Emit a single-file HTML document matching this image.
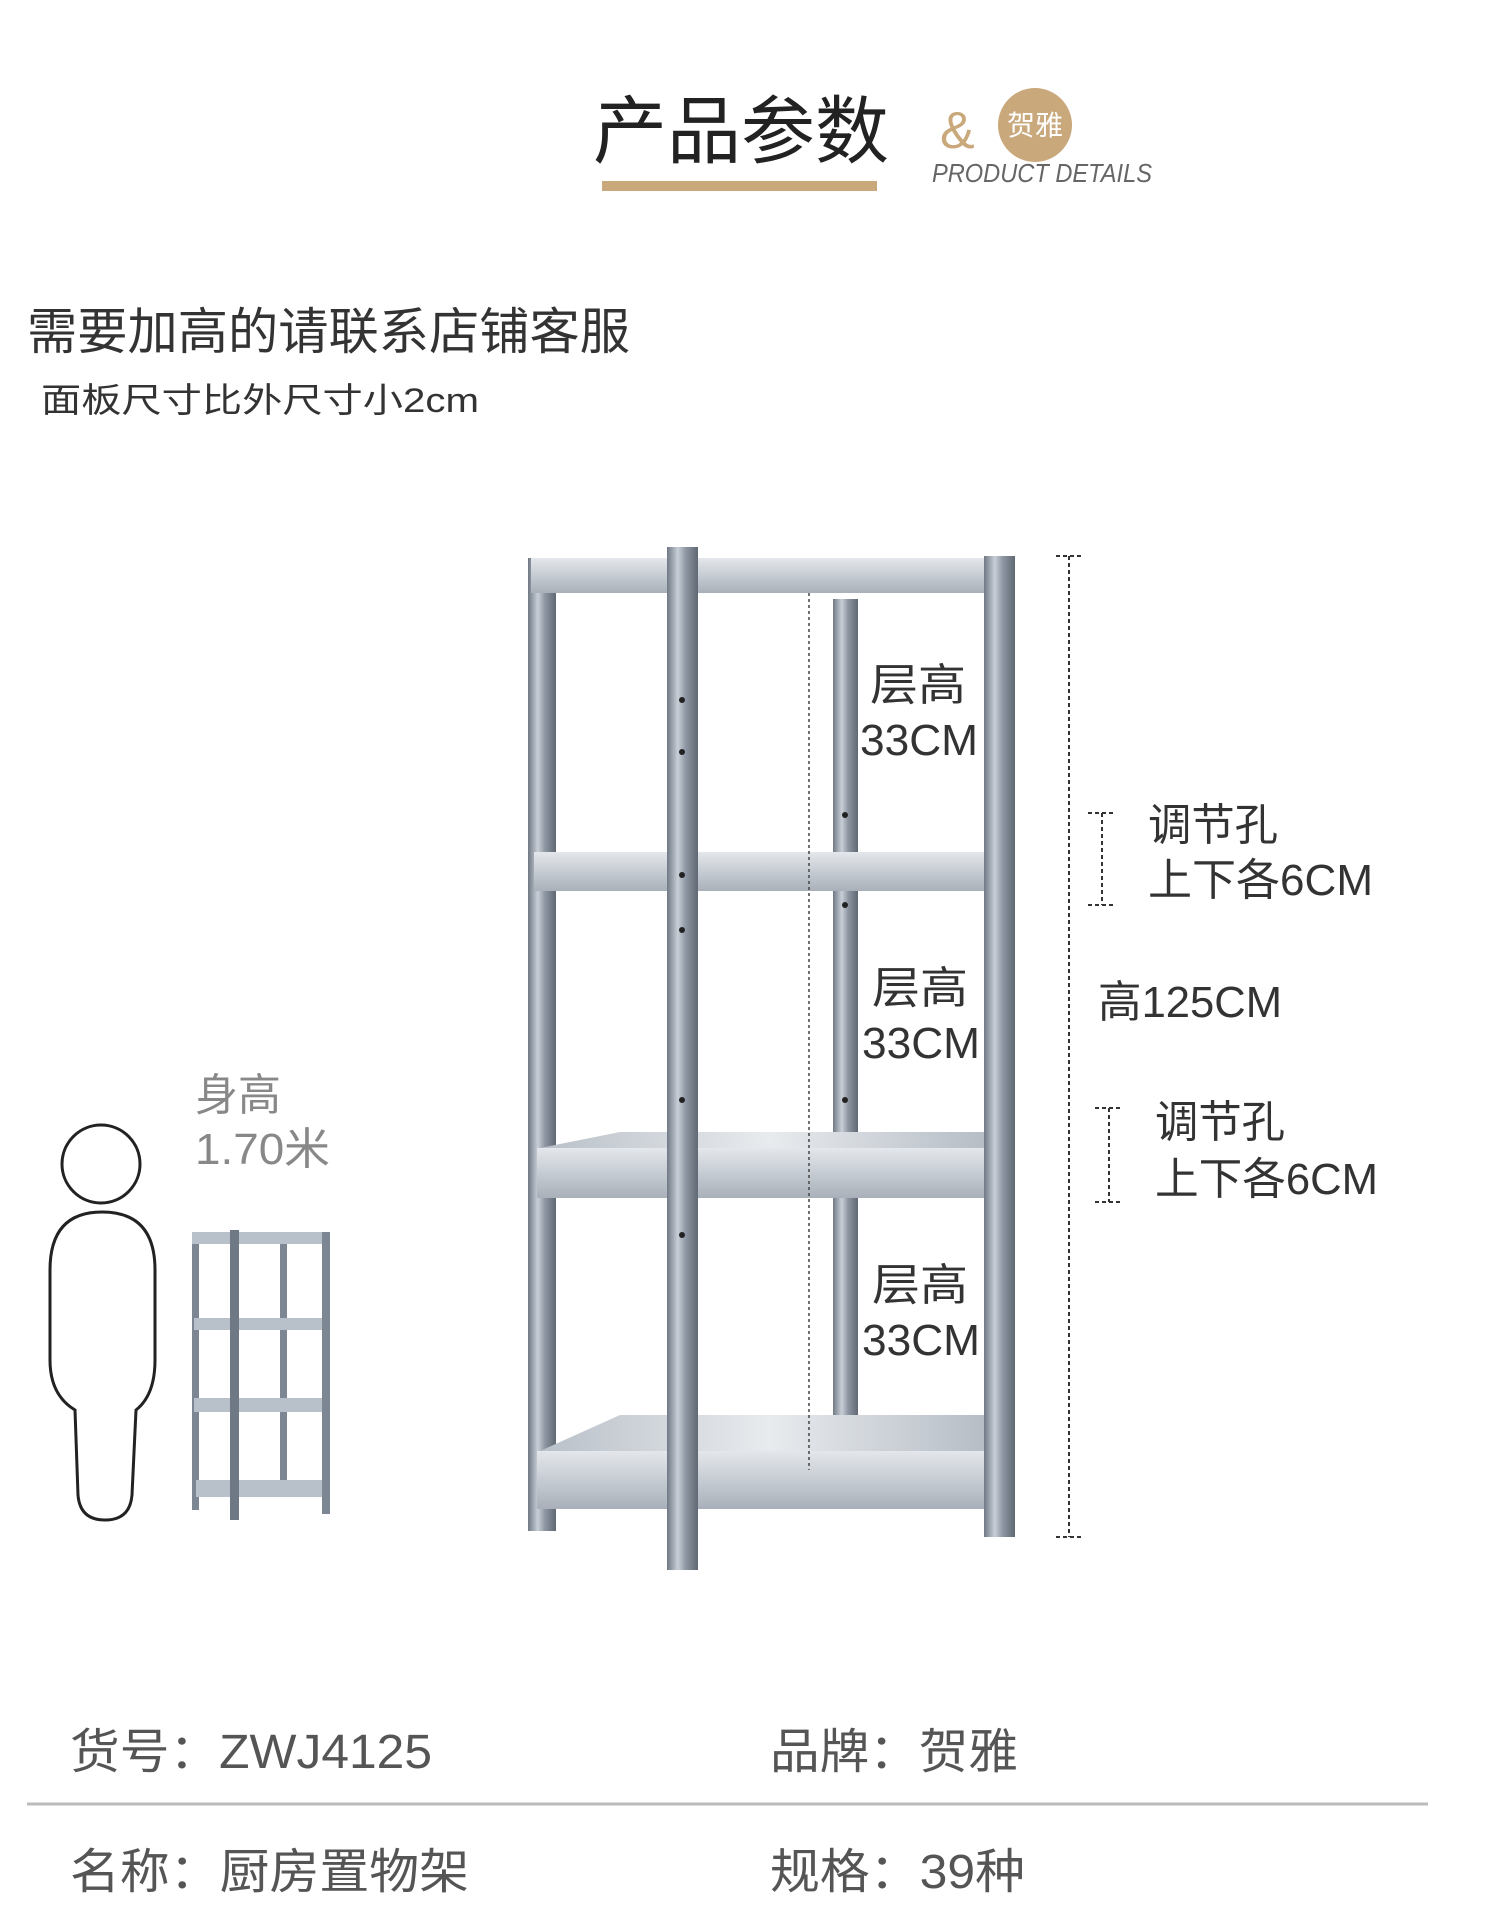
<!DOCTYPE html>
<html><head><meta charset="utf-8"><style>
html,body{margin:0;padding:0;background:#fff;}
svg{display:block;}
text{font-family:"Liberation Sans","Noto Sans CJK SC",sans-serif;}
</style></head><body>
<svg width="1500" height="1920" viewBox="0 0 1500 1920" xmlns="http://www.w3.org/2000/svg">
<defs>
<linearGradient id="post" x1="0" x2="1" y1="0" y2="0">
<stop offset="0" stop-color="#6f7884"/><stop offset="0.35" stop-color="#c9cfd7"/><stop offset="0.6" stop-color="#8e97a3"/><stop offset="1" stop-color="#5f6873"/>
</linearGradient>
<linearGradient id="face" x1="0" x2="0" y1="0" y2="1">
<stop offset="0" stop-color="#e4e7eb"/><stop offset="0.5" stop-color="#c6ccd3"/><stop offset="1" stop-color="#a9b0b9"/>
</linearGradient>
<linearGradient id="surf" x1="0" x2="1" y1="0" y2="0">
<stop offset="0" stop-color="#b9c0c8"/><stop offset="0.5" stop-color="#e8ebee"/><stop offset="1" stop-color="#b3bac3"/>
</linearGradient>
</defs>

<text x="593" y="157" font-size="74" fill="#222" textLength="296" lengthAdjust="spacingAndGlyphs">产品参数</text>
<rect x="602" y="181" width="275" height="10" fill="#c9a87c"/>
<text x="940" y="148" font-size="52" fill="#c9a87c">&amp;</text>
<circle cx="1035" cy="125" r="37" fill="#c9a87c"/>
<text x="1035" y="135" font-size="28" fill="#fff" text-anchor="middle">贺雅</text>
<text x="932" y="182" font-size="26" font-style="italic" fill="#666" textLength="220" lengthAdjust="spacingAndGlyphs">PRODUCT DETAILS</text>

<text x="27" y="349" font-size="50" fill="#333" textLength="603" lengthAdjust="spacingAndGlyphs">需要加高的请联系店铺客服</text>
<text x="41" y="412" font-size="34" fill="#333" textLength="438" lengthAdjust="spacingAndGlyphs">面板尺寸比外尺寸小2cm</text>

<g>
<rect x="528" y="558" width="28" height="973" fill="url(#post)"/>
<rect x="833" y="599" width="25" height="870" fill="url(#post)"/>
<polygon points="540,1148 1000,1148 1000,1132 620,1132" fill="url(#surf)"/>
<polygon points="540,1451 1000,1451 990,1415 620,1415" fill="url(#surf)"/>
<rect x="531" y="558" width="469" height="35" fill="url(#face)"/>
<rect x="534" y="852" width="466" height="39" fill="url(#face)"/>
<rect x="537" y="1148" width="463" height="50" fill="url(#face)"/>
<rect x="537" y="1451" width="463" height="58" fill="url(#face)"/>
<rect x="667" y="547" width="31" height="1023" fill="url(#post)"/>
<rect x="984" y="556" width="31" height="981" fill="url(#post)"/>
<g fill="#222">
<circle cx="682" cy="700" r="3"/><circle cx="682" cy="752" r="3"/><circle cx="682" cy="875" r="3"/><circle cx="682" cy="930" r="3"/><circle cx="682" cy="1100" r="3"/><circle cx="682" cy="1235" r="3"/>
<circle cx="845" cy="815" r="3"/><circle cx="845" cy="905" r="3"/><circle cx="845" cy="1100" r="3"/>
</g>
<line x1="809" y1="593" x2="809" y2="1470" stroke="#444" stroke-width="1.5" stroke-dasharray="3,3"/>
</g>
<g font-size="44" fill="#333">
<text x="870" y="700" textLength="96" lengthAdjust="spacingAndGlyphs">层高</text>
<text x="860" y="755" textLength="118" lengthAdjust="spacingAndGlyphs">33CM</text>
<text x="872" y="1003" textLength="96" lengthAdjust="spacingAndGlyphs">层高</text>
<text x="862" y="1058" textLength="118" lengthAdjust="spacingAndGlyphs">33CM</text>
<text x="872" y="1300" textLength="96" lengthAdjust="spacingAndGlyphs">层高</text>
<text x="862" y="1355" textLength="118" lengthAdjust="spacingAndGlyphs">33CM</text>
</g>

<g stroke="#333" stroke-width="2" stroke-dasharray="4,3" fill="none">
<line x1="1069" y1="556" x2="1069" y2="1537"/>
<line x1="1056" y1="556" x2="1084" y2="556"/>
<line x1="1056" y1="1537" x2="1084" y2="1537"/>
<line x1="1102" y1="813" x2="1102" y2="905"/>
<line x1="1088" y1="813" x2="1116" y2="813"/>
<line x1="1088" y1="905" x2="1116" y2="905"/>
<line x1="1109" y1="1108" x2="1109" y2="1202"/>
<line x1="1095" y1="1108" x2="1123" y2="1108"/>
<line x1="1095" y1="1202" x2="1123" y2="1202"/>
</g>
<g font-size="44" fill="#333">
<text x="1148" y="840" textLength="130" lengthAdjust="spacingAndGlyphs">调节孔</text>
<text x="1148" y="895" textLength="225" lengthAdjust="spacingAndGlyphs">上下各6CM</text>
<text x="1098" y="1017" textLength="184" lengthAdjust="spacingAndGlyphs">高125CM</text>
<text x="1155" y="1137" textLength="130" lengthAdjust="spacingAndGlyphs">调节孔</text>
<text x="1155" y="1194" textLength="223" lengthAdjust="spacingAndGlyphs">上下各6CM</text>
</g>

<circle cx="101" cy="1164" r="39" fill="none" stroke="#222" stroke-width="3"/>
<path d="M50,1270 Q50,1212 102,1212 Q155,1212 155,1270 L155,1360 Q155,1395 136,1410 L132,1495 Q130,1520 105,1520 Q80,1520 78,1495 L75,1410 Q50,1395 50,1360 Z" fill="none" stroke="#222" stroke-width="3"/>
<text x="195" y="1110" font-size="44" fill="#888" textLength="86" lengthAdjust="spacingAndGlyphs">身高</text>
<text x="195" y="1164" font-size="44" fill="#888" textLength="135" lengthAdjust="spacingAndGlyphs">1.70米</text>

<g>
<rect x="192" y="1234" width="7" height="276" fill="#7d8794"/>
<rect x="280" y="1240" width="7" height="255" fill="#7d8794"/>
<rect x="192" y="1232" width="138" height="12" fill="#b8c0c9"/>
<rect x="194" y="1318" width="134" height="12" fill="#b8c0c9"/>
<rect x="194" y="1398" width="134" height="14" fill="#b8c0c9"/>
<rect x="196" y="1480" width="132" height="17" fill="#b8c0c9"/>
<rect x="230" y="1230" width="9" height="290" fill="#6f7986"/>
<rect x="322" y="1232" width="8" height="282" fill="#7d8794"/>
</g>

<g font-size="48" fill="#555">
<text x="70" y="1768" textLength="362" lengthAdjust="spacingAndGlyphs">货号：ZWJ4125</text>
<text x="770" y="1768" textLength="248" lengthAdjust="spacingAndGlyphs">品牌：贺雅</text>
<text x="70" y="1888" textLength="399" lengthAdjust="spacingAndGlyphs">名称：厨房置物架</text>
<text x="770" y="1888" textLength="255" lengthAdjust="spacingAndGlyphs">规格：39种</text>
</g>
<line x1="27" y1="1804" x2="1428" y2="1804" stroke="#bbb" stroke-width="3"/>
</svg>
</body></html>
